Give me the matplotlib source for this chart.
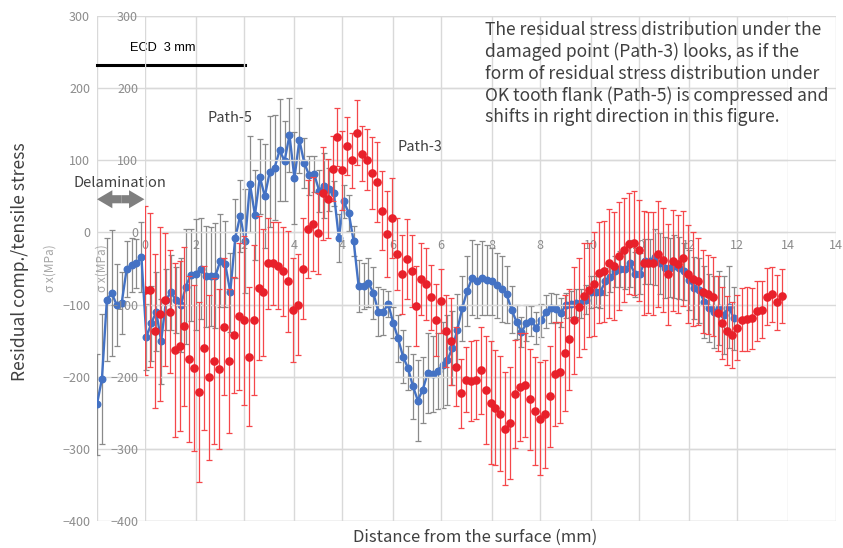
import numpy as np
import matplotlib.pyplot as plt
from matplotlib.patches import FancyArrowPatch

plt.rcParams['font.family'] = ['Noto Sans CJK JP', 'DejaVu Sans']

# sigma-x measured every 0.1 mm from the surface
path5_sx = [
    -238, -203, -93, -84, -101, -98, -51, -45, -43, -34,
    -145, -126, -110, -151, -93, -83, -94, -101, -75, -59,
    -58, -50, -61, -61, -60, -39, -44, -83, -8, 23,
    -12, 67, 24, 77, 50, 84, 90, 114, 99, 135,
    75, 128, 96, 79, 81, 58, 65, 60, 54, -8,
    43, 27, -12, -74, -74, -70, -84, -110, -110, -99,
    -125, -147, -172, -188, -213, -233, -218, -195, -196, -192,
    -184, -177, -160, -135, -105, -81, -63, -67, -63, -66,
    -68, -73, -78, -86, -107, -124, -138, -126, -123, -132,
    -122, -110, -105, -106, -111, -101, -99, -98, -98, -93,
    -83, -82, -82, -68, -62, -54, -51, -51, -43, -58,
    -57, -40, -40, -34, -43, -49, -49, -47, -49, -54,
    -66, -77, -80, -96, -105, -110, -105, -114, -103, -119,
]
path5_err = [
    70, 90, 85, 87, 57, 43, 39, 37, 34, 49,
    46, 52, 55, 59, 42, 52, 46, 65, 80, 64,
    77, 70, 70, 69, 73, 65, 60, 55, 55, 50,
    72, 66, 62, 52, 72, 77, 73, 71, 56, 51,
    64, 45, 35, 27, 25, 29, 45, 30, 17, 33,
    23, 25, 21, 36, 32, 34, 36, 34, 32, 18,
    22, 33, 37, 30, 45, 56, 46, 55, 53, 53,
    60, 62, 51, 50, 45, 49, 52, 51, 51, 48,
    47, 45, 46, 39, 33, 24, 21, 25, 21, 22,
    23, 23, 21, 20, 20, 17, 18, 19, 20, 20,
    22, 22, 23, 19, 20, 21, 25, 28, 33, 31,
    29, 31, 31, 39, 42, 42, 41, 44, 43, 39,
    42, 43, 45, 50, 47, 50, 51, 54, 57, 44,
]
path3_sx = [
    -80, -80, -137, -113, -93, -110, -163, -157, -130, -176,
    -188, -221, -160, -201, -178, -189, -131, -178, -142, -116,
    -122, -172, -122, -77, -83, -43, -43, -46, -54, -68,
    -107, -100, -50, 5, 12, -1, 54, 47, 88, 132,
    86, 120, 100, 138, 109, 101, 82, 70, 30, -2,
    20, -30, -58, -37, -54, -102, -65, -72, -90, -121,
    -95, -137, -151, -186, -223, -204, -206, -204, -191, -218,
    -236, -243, -251, -272, -264, -224, -214, -211, -231, -248,
    -258, -252, -227, -196, -194, -167, -148, -122, -104, -88,
    -80, -71, -56, -54, -43, -47, -33, -24, -16, -15,
    -25, -42, -42, -43, -30, -38, -58, -39, -44, -36,
    -58, -65, -68, -82, -86, -89, -112, -126, -136, -142,
    -132, -121, -120, -119, -109, -107, -89, -86, -97, -88,
]
path3_err = [
    117, 107, 107, 120, 92, 85, 121, 118, 110, 115,
    115, 125, 114, 114, 115, 111, 95, 100, 80, 102,
    117, 96, 104, 100, 88, 63, 57, 60, 62, 70,
    72, 70, 70, 68, 65, 56, 64, 55, 45, 40,
    55, 40, 38, 45, 38, 42, 50, 55, 55, 60,
    55, 50, 55, 55, 50, 55, 50, 50, 45, 50,
    45, 50, 60, 55, 48, 45, 55, 55, 60, 75,
    85, 80, 80, 78, 78, 75, 75, 72, 70, 75,
    78, 75, 70, 72, 70, 80, 70, 74, 68, 74,
    65, 72, 70, 70, 75, 75, 75, 72, 70, 72,
    70, 72, 70, 72, 74, 72, 70, 70, 68, 66,
    68, 65, 60, 58, 55, 55, 52, 50, 48, 46,
    45, 44, 44, 42, 42, 40, 40, 38, 38, 38,
]
pitch = 0.1
path5_x = np.arange(len(path5_sx)) * pitch
path3_x = np.arange(len(path3_sx)) * pitch

delamination = 1.0   # mm, shift between the two paths
ecd_depth = 3.0      # mm
x_ticks = np.arange(0, 15, 2)
y_ticks = np.arange(-400, 301, 100)

W, H = 843, 548
fig = plt.figure(figsize=(W / 100, H / 100), dpi=100)


def px_box(x0, x1, y_top, y_bot):
    return [x0 / W, 1 - y_bot / H, (x1 - x0) / W, (y_bot - y_top) / H]


grid_c = '#d9d9d9'
tick_c = '#8c8c8c'
text_c = '#404040'


def style_axis(ax, label_x):
    ax.set_xlim(0, 14)
    ax.set_ylim(-400, 300)
    ax.set_xticks(x_ticks)
    ax.set_yticks(y_ticks)
    ax.grid(True, color=grid_c, lw=1.0)
    ax.set_axisbelow(True)
    for s in ax.spines.values():
        s.set_visible(False)
    ax.spines['bottom'].set_position(('data', 0))
    ax.tick_params(length=0, labelsize=9, labelcolor=tick_c, pad=5)
    ax.set_ylabel('σ x(MPa)', color='#a6a6a6', fontsize=8.5)
    ax.yaxis.set_label_coords(label_x, 0.5)


ax5 = fig.add_axes(px_box(97, 788, 16, 521))
style_axis(ax5, -0.059)
# the 0 of the Path-5 depth axis sits under the first data points
ax5.set_xticklabels([''] + [str(t) for t in x_ticks[1:]])
ax5.errorbar(path5_x, path5_sx, yerr=path5_err, fmt='none', ecolor='#8a8a8a',
             elinewidth=0.9, capsize=2.5, capthick=0.9, zorder=2)
ax5.plot(path5_x, path5_sx, '-o', color='#4472c4', lw=1.7, ms=4.7, zorder=3)

ax3 = fig.add_axes(px_box(145, 836, 16, 521))
ax3.patch.set_alpha(0)
style_axis(ax3, -0.053)
ax3.errorbar(path3_x, path3_sx, yerr=path3_err, fmt='none', ecolor='#f5474a',
             elinewidth=0.9, capsize=2.5, capthick=0.9, zorder=2)
ax3.plot(path3_x, path3_sx, 'o', color='#e8202a', ms=5.2, zorder=3)

# ECD marker line
ax5.plot([0, ecd_depth], [232, 232], color='black', lw=2.2, clip_on=False)
ax5.text(0.66, 252, 'ECD  3 mm', fontsize=9.2, color='black',
         family='Liberation Sans')

# delamination arrow (double headed)
mid = delamination / 2
for end in (0, delamination * 0.96):
    ax5.add_patch(FancyArrowPatch((mid, 46), (end, 46),
                                  arrowstyle='simple,head_width=1.0,head_length=0.85,tail_width=0.45',
                                  mutation_scale=13, color='#7f7f7f', lw=0,
                                  shrinkA=0, shrinkB=0, zorder=5))
ax5.text(0.47, 69, 'Delamination', fontsize=10.5, color=text_c,
         ha='center', va='center')
ax5.text(2.7, 158, 'Path-5', fontsize=10.5, color=text_c, ha='center', va='center')
ax5.text(6.54, 119, 'Path-3', fontsize=10.5, color=text_c, ha='center', va='center')

note = ('The residual stress distribution under the\n'
        'damaged point (Path-3) looks, as if the\n'
        'form of residual stress distribution under\n'
        'OK tooth flank (Path-5) is compressed and\n'
        'shifts in right direction in this figure.')
fig.text(485 / W, 1 - 21 / H, note, fontsize=12.6, color=text_c,
         ha='left', va='top', linespacing=1.24)

fig.text(20 / W, 1 - 262 / H, 'Residual comp./tensile stress', rotation=90,
         fontsize=12.6, color=text_c, ha='center', va='center')
fig.text(475 / W, 1 - 537 / H, 'Distance from the surface (mm)',
         fontsize=12, color=text_c, ha='center', va='center')

fig.savefig('out.png', dpi=100)
